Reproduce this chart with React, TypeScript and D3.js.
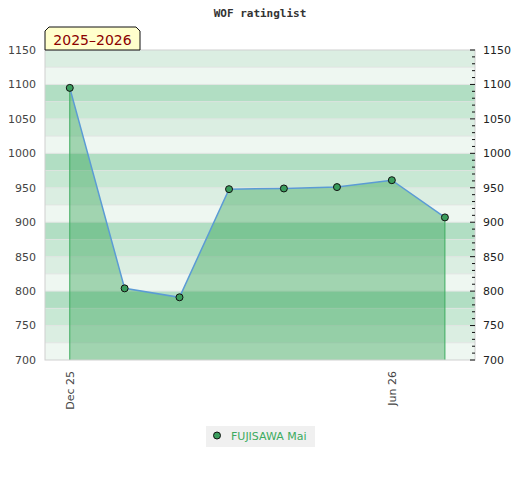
import React from "react";
import * as d3 from "d3";

const W = 520;
const H = 480;

const title = "WOF ratinglist";
const seasonLabel = "2025–2026";
const playerName = "FUJISAWA Mai";

const dates = [
  "2025-12-01",
  "2026-01-01",
  "2026-02-01",
  "2026-03-01",
  "2026-04-01",
  "2026-05-01",
  "2026-06-01",
  "2026-07-01",
];
const ratings = [1095, 804, 791, 948, 949, 951, 961, 907];

const xDomain = ["2025-11-17", "2026-07-18"];
const xTickDates = ["2025-12-01", "2026-06-01"];
const yDomain = [700, 1150];
const yLabelTicks = [700, 750, 800, 850, 900, 950, 1000, 1050, 1100, 1150];

const bandColors = ["#eef7f1", "#dbeee2", "#c8e8d4", "#b1dec3"]; // by (lower % 100)/25

const parse = d3.utcParse("%Y-%m-%d");

export default function App() {
  const left = 45, right = 475, top = 50, bottom = 360;
  const x = d3.scaleUtc().domain(xDomain.map((d) => parse(d)!)).range([left, right]);
  const y = d3.scaleLinear().domain(yDomain).range([bottom, top]);

  const pts = dates.map((d, i) => ({ date: parse(d)!, v: ratings[i] }));

  const line = d3
    .line<{ date: Date; v: number }>()
    .x((d) => x(d.date))
    .y((d) => y(d.v));
  const area = d3
    .area<{ date: Date; v: number }>()
    .x((d) => x(d.date))
    .y0(y(yDomain[0]))
    .y1((d) => y(d.v));

  const bands: number[] = d3.range(yDomain[0], yDomain[1], 25);
  const minorTicks: number[] = d3.range(yDomain[0], yDomain[1] + 1, 10);
  const fmt = d3.utcFormat("%b %y");

  const first = pts[0];
  const last = pts[pts.length - 1];

  return (
    <svg
      width={W}
      height={H}
      style={{ position: "absolute", left: 0, top: 0, background: "#fff" }}
      fontFamily="DejaVu Sans, sans-serif"
    >
      <text
        x={260}
        y={17}
        textAnchor="middle"
        fontFamily="DejaVu Sans Mono, monospace"
        fontWeight="bold"
        fontSize={11}
        fill="#333"
      >
        {title}
      </text>

      {/* bands */}
      {bands.map((b) => (
        <rect
          key={b}
          x={left}
          y={y(b + 25)}
          width={right - left}
          height={y(b) - y(b + 25)}
          fill={bandColors[((b % 100) / 25) | 0]}
        />
      ))}
      {bands.slice(1).map((b) => (
        <line
          key={"g" + b}
          x1={left}
          x2={right}
          y1={y(b)}
          y2={y(b)}
          stroke="#e2e2e2"
          strokeOpacity={0.8}
        />
      ))}

      {/* area */}
      <path d={area(pts) || ""} fill="rgb(46,160,80)" fillOpacity={0.4} />
      <line
        x1={x(first.date)}
        x2={x(first.date)}
        y1={y(first.v)}
        y2={y(yDomain[0])}
        stroke="#3cab5f"
        strokeWidth={1}
      />
      <line
        x1={x(last.date)}
        x2={x(last.date)}
        y1={y(last.v)}
        y2={y(yDomain[0])}
        stroke="#3cab5f"
        strokeWidth={1}
      />
      <path d={line(pts) || ""} fill="none" stroke="#5b9bd5" strokeWidth={1.5} />

      {/* border */}
      <rect
        x={left}
        y={top}
        width={right - left}
        height={bottom - top}
        fill="none"
        stroke="#d0d0d0"
      />

      {/* markers */}
      {pts.map((p, i) => (
        <circle
          key={i}
          cx={x(p.date)}
          cy={y(p.v)}
          r={3.5}
          fill="#3a9d5d"
          stroke="#111"
          strokeWidth={1}
        />
      ))}

      {/* right ticks */}
      {minorTicks.map((t) => (
        <line
          key={"t" + t}
          x1={right - (t % 50 === 0 ? 5 : 3)}
          x2={right}
          y1={y(t)}
          y2={y(t)}
          stroke="#111"
          strokeWidth={1}
        />
      ))}

      {/* y labels */}
      {yLabelTicks.map((t) => (
        <g key={"l" + t}>
          <text x={36} y={y(t)} dy="0.35em" textAnchor="end" fontSize={11} fill="#444">
            {t}
          </text>
          <text x={483} y={y(t)} dy="0.35em" textAnchor="start" fontSize={11} fill="#222">
            {t}
          </text>
        </g>
      ))}

      {/* x labels */}
      {xTickDates.map((d) => {
        const dt = parse(d)!;
        return (
          <text
            key={d}
            transform={`translate(${x(dt)},${bottom + 11}) rotate(-90)`}
            dy="0.35em"
            textAnchor="end"
            fontSize={11}
            fill="#444"
          >
            {fmt(dt)}
          </text>
        );
      })}

      {/* season label */}
      <polygon
        points="45,50 45,31 49,27 136,27 140,31 140,50"
        fill="#ffffcc"
        stroke="#111"
        strokeWidth={1}
      />
      <text x={92.5} y={45} textAnchor="middle" fontSize={14} fill="#8b0000">
        {seasonLabel}
      </text>

      {/* legend */}
      <rect x={206} y={426} width={109} height={21} fill="#f0f0f0" />
      <circle cx={217} cy={435.5} r={3.5} fill="#3a9d5d" stroke="#111" strokeWidth={1} />
      <text x={231} y={440} fontSize={11} fill="#3cab5f">
        {playerName}
      </text>
    </svg>
  );
}
